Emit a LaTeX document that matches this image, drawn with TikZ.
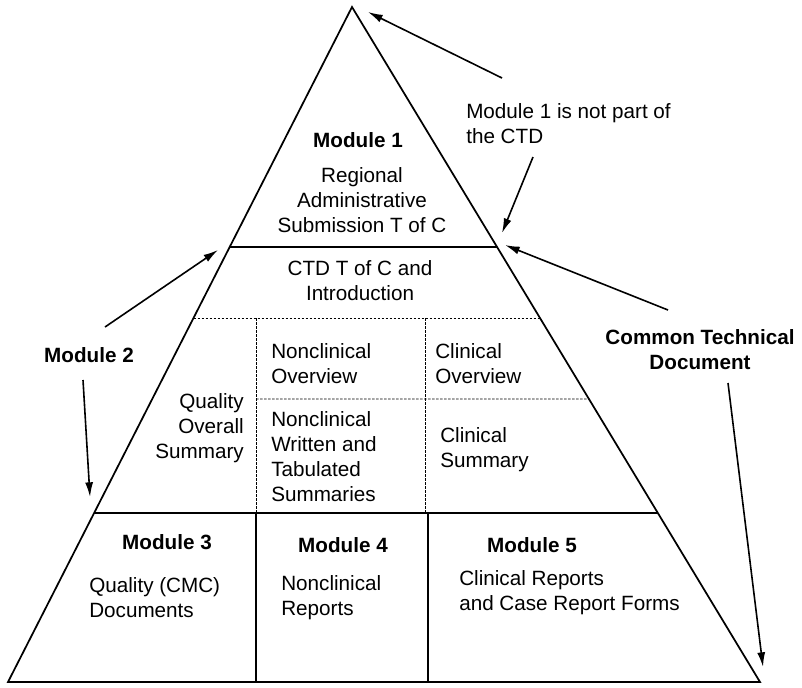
\documentclass[tikz,border=0pt]{standalone}
\usepackage{fontspec}
\setmainfont{Liberation Sans}
\usetikzlibrary{arrows.meta}
\usetikzlibrary{calc}

\begin{document}
\begin{tikzpicture}[x=0.75pt,y=-0.75pt,
		edge/.style={line width=1.3pt},
		divider/.style={line width=2pt},
		dashdiv/.style={line width=0.6pt,dash pattern=on 2pt off 1pt},
		pointer/.style={line width=1.2pt,-{Latex[length=11pt,width=6pt]}}]
				\useasboundingbox (0,0) rectangle (802,687);
				\coordinate (top) at (352,7);
				\coordinate (bl) at (8,682);
				\coordinate (br) at (760,682);
				\draw [edge] (top) -- (bl) -- (br) -- cycle;
				% levels of the pyramid
				\draw [divider] ($(top)!0.3556!(bl)$) -- ($(top)!0.3556!(br)$);
				\draw [dashdiv] ($(top)!0.4607!(bl)$) -- ($(top)!0.4607!(br)$);
				\draw [dashdiv] (256,318) -- (256,513);
				\draw [dashdiv] (425,318) -- (425,513);
				\draw [dashdiv] (256,399) -- ($(top)!0.5807!(br)$);
				\draw [divider] ($(top)!0.7496!(bl)$) -- ($(top)!0.7496!(br)$);
				\draw [edge] (256,513) -- (256,682);
				\draw [edge] (428,513) -- (428,682);
				\begin{scope}[every node/.style={inner sep=0pt,font=\fontsize{15.5}{18.75}\selectfont}]
					\node[font=\fontsize{15.5}{18.75}\selectfont\bfseries] (M1) at (358,140) {Module 1};
					\node[align=center] (RA) at (362,200) {Regional\\Administrative\\Submission T of C};
					\node[align=center] (CTD) at (360,281) {CTD T of C and\\Introduction};
					\node[align=right,anchor=east] (QOS) at (244,428) {Quality\\Overall\\Summary};
					\node[align=left,anchor=west] (NO) at (271,364) {Nonclinical\\Overview};
					\node[align=left,anchor=west] (NW) at (271,457) {Nonclinical\\Written and\\Tabulated\\Summaries};
					\node[align=left,anchor=west] (CO) at (435,364) {Clinical\\Overview};
					\node[align=left,anchor=west] (CS) at (440,450) {Clinical\\Summary};
					\node[font=\fontsize{15.5}{18.75}\selectfont\bfseries] (M3) at (167,542) {Module 3};
					\node[align=left,anchor=west] (QD) at (89,598) {Quality (CMC)\\Documents};
					\node[font=\fontsize{15.5}{18.75}\selectfont\bfseries] (M4) at (343,545) {Module 4};
					\node[align=left,anchor=west] (NR) at (281,598) {Nonclinical\\Reports};
					\node[font=\fontsize{15.5}{18.75}\selectfont\bfseries] (M5) at (532,545) {Module 5};
					\node[align=left,anchor=west] (CR) at (459,593) {Clinical Reports\\and Case Report Forms};
					% notes outside the pyramid
					\node[align=left,anchor=west] (note) at (466,124) {Module 1 is not part of\\the CTD};
					\node[font=\fontsize{15.5}{18.75}\selectfont\bfseries] (M2) at (89,355) {Module 2};
					\node[align=center,font=\fontsize{15.5}{18.75}\selectfont\bfseries] (doc) at (700,350) {Common Technical\\Document};
				\end{scope}
				\coordinate (noteA) at (502,78);
				\coordinate (noteB) at (533,157);
				\coordinate (docA) at (668,310);
				\coordinate (docB) at (728,383);
				\coordinate (mtwoA) at (105,327);
				\coordinate (mtwoB) at (83,380);
				\draw [pointer] (noteA) -- (368,12);
				\draw [pointer] (noteB) -- (502,233);
				\draw [pointer] (docA) -- (505,245);
				\draw [pointer] (docB) -- (763,667);
				\draw [pointer] (mtwoA) -- (218,250);
				\draw [pointer] (mtwoB) -- (90,497);
			\end{tikzpicture}
\end{document}
